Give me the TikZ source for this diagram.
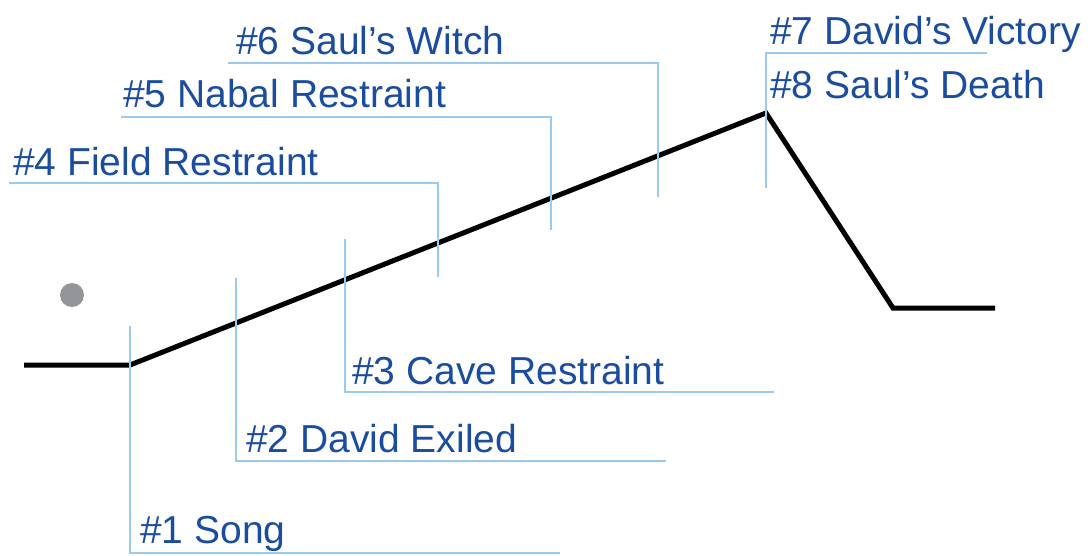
\documentclass[tikz,border=0pt]{standalone}
\usepackage{fontspec}
\setmainfont{Liberation Sans}
\definecolor{txtblue}{HTML}{1A4C9F}
\definecolor{leadblue}{HTML}{9CCAEE}
\definecolor{dotgray}{HTML}{939598}
\begin{document}
\begin{tikzpicture}[x=1pt,y=-1pt,
  lbl/.style={anchor=base west,inner sep=0pt,text=txtblue,font=\fontsize{39}{46}\selectfont},
  leader/.style={draw=leadblue,line width=2pt},
  plotline/.style={draw=black,line width=5pt,line join=miter}]
\path[use as bounding box] (0,0) rectangle (1088,555);
% plot line
\coordinate (p0) at (24,365);
\coordinate (p1) at (130,365);
\coordinate (p2) at (766,113);
\coordinate (p3) at (893,308);
\coordinate (p4) at (995,308);
\draw[plotline] (p0) -- (p1) -- (p2) -- (p3) -- (p4);
% labels
\node[lbl] (l1) at (140,543) {\#1 Song};
\node[lbl] (l2) at (246,452) {\#2 David Exiled};
\node[lbl] (l3) at (352,384) {\#3 Cave Restraint};
\node[lbl] (l4) at (13,175) {\#4 Field Restraint};
\node[lbl] (l5) at (123,107) {\#5 Nabal Restraint};
\node[lbl] (l6) at (236,54) {\#6 Saul’s Witch};
\node[lbl] (l7) at (770,44) {\#7 David’s Victory};
\node[lbl] (l8) at (770,98) {\#8 Saul’s Death};
% leader lines
\coordinate (a1) at (130,326); \coordinate (b1) at (130,553); \coordinate (c1) at (560,553);
\coordinate (a2) at (236,278); \coordinate (b2) at (236,461); \coordinate (c2) at (666,461);
\coordinate (a3) at (345,239); \coordinate (b3) at (345,392); \coordinate (c3) at (774,392);
\coordinate (a4) at (9,183);   \coordinate (b4) at (438,183); \coordinate (c4) at (438,277);
\coordinate (a5) at (121,117); \coordinate (b5) at (551,117); \coordinate (c5) at (551,230);
\coordinate (a6) at (228,63);  \coordinate (b6) at (658,63);  \coordinate (c6) at (658,197);
\coordinate (a7) at (987,53);  \coordinate (b7) at (766,53);  \coordinate (c7) at (766,188);
\draw[leader] (a1) -- (b1) -- (c1);
\draw[leader] (a2) -- (b2) -- (c2);
\draw[leader] (a3) -- (b3) -- (c3);
\draw[leader] (a4) -- (b4) -- (c4);
\draw[leader] (a5) -- (b5) -- (c5);
\draw[leader] (a6) -- (b6) -- (c6);
\draw[leader] (a7) -- (b7) -- (c7);
% dot
\fill[dotgray] (72,295) circle (12);
\end{tikzpicture}
\end{document}
